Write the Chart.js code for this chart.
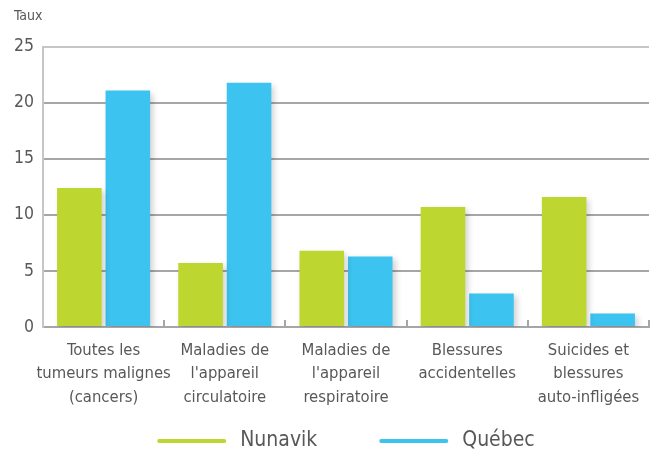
<!DOCTYPE html>
<html>
<head>
<meta charset="utf-8">
<script src="https://cdn.jsdelivr.net/npm/chart.js@4.4.1/dist/chart.umd.min.js"></script>
<style>
  html, body { margin: 0; padding: 0; background: #ffffff; }
  #wrap { width: 654px; height: 453px; position: relative; }
</style>
</head>
<body>
<div id="wrap"><canvas id="c"></canvas></div>
<script>
const categories = [
  ["Toutes les", "tumeurs malignes", "(cancers)"],
  ["Maladies de", "l'appareil", "circulatoire"],
  ["Maladies de", "l'appareil", "respiratoire"],
  ["Blessures", "accidentelles"],
  ["Suicides et", "blessures", "auto-infligées"]
];
const seriesNames = ["Nunavik", "Québec"];
const nunavikValues = [12.4, 5.7, 6.8, 10.7, 11.6];
const quebecValues = [21.1, 21.8, 6.3, 3.0, 1.2];
const yTickValues = [0, 5, 10, 15, 20, 25];
const yAxisTitle = "Taux";

const FONT = "'Liberation Sans Narrow', 'DejaVu Sans Condensed', 'Liberation Sans', sans-serif";
const TEXT = "#585858";
const GREEN = "#BED730";
const BLUE = "#3DC3EF";

const shadowPlugin = {
  id: 'barShadow',
  beforeDatasetsDraw(chart) {
    const ctx = chart.ctx;
    ctx.save();
    ctx.shadowColor = 'rgba(0,0,0,0.18)';
    ctx.shadowBlur = 6;
    ctx.shadowOffsetX = 3;
    ctx.shadowOffsetY = 3;
  },
  afterDatasetsDraw(chart) {
    chart.ctx.restore();
  }
};

const lineLegendPlugin = {
  id: 'lineLegend',
  afterDraw(chart) {
    const ctx = chart.ctx;
    const area = chart.chartArea;
    const lineW = 69, gapText = 14, gapItem = 62;
    ctx.save();
    ctx.font = "21px " + FONT;
    const items = chart.data.datasets.map(ds => ({
      label: ds.label, color: ds.backgroundColor, w: ctx.measureText(ds.label).width
    }));
    let total = 0;
    items.forEach((it, i) => { total += lineW + gapText + it.w + (i < items.length - 1 ? gapItem : 0); });
    let x = (area.left + area.right) / 2 - total / 2;
    const y = chart.height - 12;
    items.forEach(it => {
      ctx.strokeStyle = it.color;
      ctx.lineWidth = 4;
      ctx.lineCap = 'round';
      ctx.beginPath();
      ctx.moveTo(x + 2, y);
      ctx.lineTo(x + lineW - 2, y);
      ctx.stroke();
      x += lineW + gapText;
      ctx.fillStyle = TEXT;
      ctx.textBaseline = 'middle';
      ctx.textAlign = 'left';
      ctx.fillText(it.label, x, y);
      x += it.w + gapItem;
    });
    ctx.restore();
  }
};

new Chart(document.getElementById('c'), {
  type: 'bar',
  data: {
    labels: categories,
    datasets: [
      { label: seriesNames[0], data: nunavikValues, backgroundColor: GREEN },
      { label: seriesNames[1], data: quebecValues, backgroundColor: BLUE }
    ]
  },
  plugins: [shadowPlugin, lineLegendPlugin],
  options: {
    responsive: true,
    maintainAspectRatio: false,
    animation: false,
    devicePixelRatio: 1,
    layout: { padding: { left: 14, right: 5, top: 0, bottom: 36 } },
    datasets: { bar: { categoryPercentage: 0.8, barPercentage: 0.92 } },
    plugins: {
      legend: { display: false },
      tooltip: { enabled: false },
      title: {
        display: true,
        text: yAxisTitle,
        align: 'start',
        color: TEXT,
        font: { family: FONT, size: 14, weight: 'normal' },
        padding: { top: 8, bottom: 22 }
      }
    },
    scales: {
      x: {
        grid: {
          display: true,
          drawOnChartArea: false,
          drawTicks: true,
          tickLength: -7,
          color: '#a6a6a8',
          lineWidth: 2
        },
        border: { display: true, color: '#a6a6a8', width: 2 },
        ticks: {
          color: TEXT,
          padding: 19,
          maxRotation: 0,
          autoSkip: false,
          font: { family: FONT, size: 16.5, lineHeight: 1.42 }
        },
        afterFit(scale) {
          scale.height = 90;
          scale.paddingLeft = 0;
          scale.paddingRight = 0;
        }
      },
      y: {
        min: 0,
        max: 25,
        afterBuildTicks(scale) { scale.ticks = yTickValues.map(v => ({ value: v })); },
        grid: {
          drawTicks: false,
          color: ctx => (ctx.tick && ctx.tick.value === 25) ? '#c6c6c6' : '#a6a6a8',
          lineWidth: 2
        },
        border: { display: true, color: '#c6c6c6', width: 2 },
        ticks: {
          color: TEXT,
          padding: 9,
          font: { family: FONT, size: 17.5 }
        },
        afterFit(scale) { scale.width = 29; }
      }
    }
  }
});
</script>
</body>
</html>
